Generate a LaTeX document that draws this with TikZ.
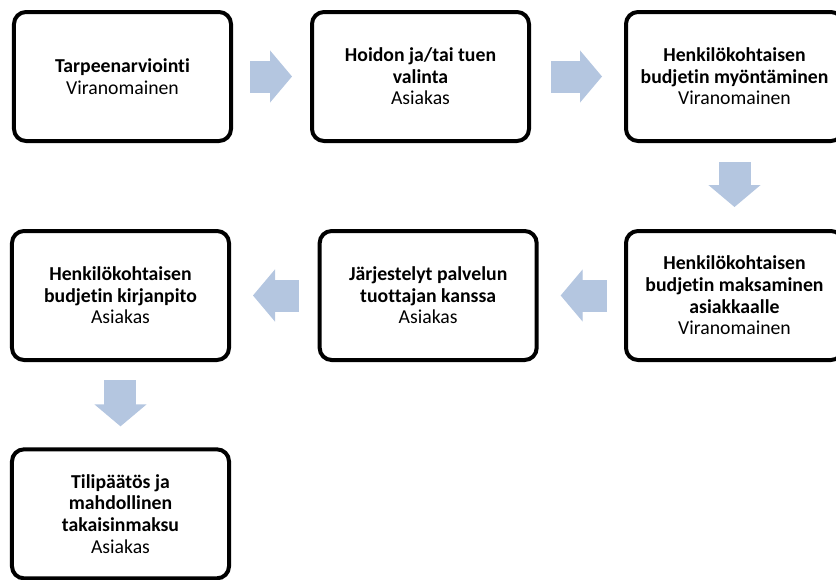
\documentclass[tikz,border=0pt]{standalone}
\usepackage{fontspec}
\setmainfont{Carlito}[Ligatures=NoCommon]
\usepackage{xcolor}
\usepackage{tikz}
\usetikzlibrary{arrows.meta,positioning}
\definecolor{ab}{RGB}{180,198,224}

\begin{document}
\begin{tikzpicture}[
  node distance=64.5pt and 60pt,
  box/.style={rectangle,draw,line width=3pt,rounded corners=9pt,align=center,
    fill=white,minimum width=162.75pt,minimum height=96.75pt,inner sep=2pt,
    font=\fontsize{14.8pt}{16.2pt}\selectfont},
  barr/.style={draw=ab,line width=24pt,
    -{Triangle[width=39pt,length=16.5pt,line width=1pt]}}]
  \useasboundingbox (-91.875pt,57.375pt) rectangle (535.125pt,-376.875pt);
  \clip (-91.875pt,57.375pt) rectangle (535.125pt,-376.875pt);
  \node[box] (tarve) at (0,0) {\textbf{Tarpeenarviointi}\\Viranomainen};
  \node[box,right=57.75pt of tarve] (valinta) {\textbf{Hoidon ja/tai tuen}\\
    \textbf{valinta}\\Asiakas};
  \node[box,right=69.75pt of valinta] (myont) {\textbf{Henkilökohtaisen}\\
    \textbf{budjetin myöntäminen}\\Viranomainen};
  \node[box,below=of myont] (maksu) {\textbf{Henkilökohtaisen}\\
    \textbf{budjetin maksaminen}\\\textbf{asiakkaalle}\\Viranomainen};
  \node[box,left=64pt of maksu] (jarj) {\textbf{Järjestelyt palvelun}\\
    \textbf{tuottajan kanssa}\\Asiakas};
  \node[box,left=65pt of jarj] (kirja) {\textbf{Henkilökohtaisen}\\
    \textbf{budjetin kirjanpito}\\Asiakas};
  \node[box,below=64pt of kirja] (tili) {\textbf{Tilipäätös ja}\\
    \textbf{mahdollinen}\\\textbf{takaisinmaksu}\\Asiakas};
  \draw[barr,shorten <=12.75pt,shorten >=13.5pt] (tarve) -- (valinta);
  \draw[barr,shorten <=15pt,shorten >=16.5pt] (valinta) -- (myont);
  \draw[barr,shorten <=14.25pt,shorten >=16.5pt] (myont) -- (maksu);
  \draw[barr,shorten <=12.75pt,shorten >=16.5pt] (maksu) -- (jarj);
  \draw[barr,shorten <=14.25pt,shorten >=16.5pt] (jarj) -- (kirja);
  \draw[barr,shorten <=13.5pt,shorten >=15.75pt] (kirja) -- (tili);
\end{tikzpicture}
\end{document}
